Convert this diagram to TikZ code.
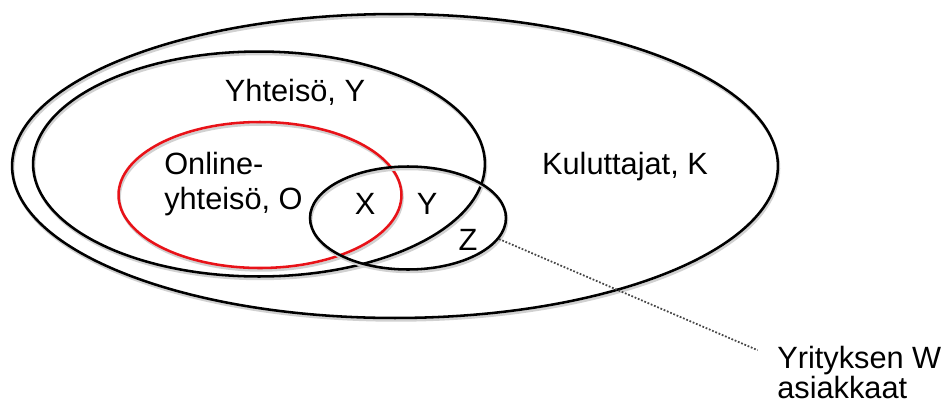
\documentclass[tikz,border=0pt]{standalone}
\usepackage{fontspec}
\setmainfont{Liberation Sans}
\usetikzlibrary{shapes.geometric}
\definecolor{setred}{RGB}{232,18,24}
\definecolor{leadgray}{RGB}{70,70,70}

\begin{document}
\begin{tikzpicture}[x=0.02cm,y=-0.02cm,line width=1.45pt,
  set/.style={draw,ellipse,inner sep=0pt,
    preaction={draw=black!18,transform canvas={xshift=0.6pt,yshift=-1.4pt}}},
  lbl/.style={font=\fontsize{17.5}{19.5}\selectfont,inner sep=0pt}]
  \useasboundingbox (0,0) rectangle (943,403);
  \node[set,minimum width=15.32cm,minimum height=6.08cm] (kul) at (395,166) {};
  \node[set,minimum width=9.04cm,minimum height=4.5cm] (yht) at (259,164) {};
  \node[set,setred,minimum width=5.66cm,minimum height=2.92cm] (onl) at (260,195) {};
  \node[set,minimum width=3.92cm,minimum height=2.06cm] (asi) at (408,218) {};
  \node[lbl] (ytxt) at (295,92) {Yhteisö, Y};
  \node[lbl,align=left,anchor=west,font=\fontsize{17.5}{20}\selectfont] (otxt) at (163,184) {Online-\\yhteisö, O};
  \node[lbl] (ktxt) at (625,167) {Kuluttajat, K};
  \node[lbl] (xtxt) at (365,204) {X};
  \node[lbl] (y2txt) at (427,204) {Y};
  \node[lbl] (ztxt) at (468,240) {Z};
  \node[lbl,align=left,anchor=north west,font=\fontsize{17.5}{15.5}\selectfont] (wtxt) at (776,345) {Yrityksen W\\asiakkaat};
  \draw[leadgray,line width=1pt,dash pattern=on 1pt off 1pt,shorten >=0.4cm] (asi.-13) -- (wtxt.170);
\end{tikzpicture}
\end{document}
